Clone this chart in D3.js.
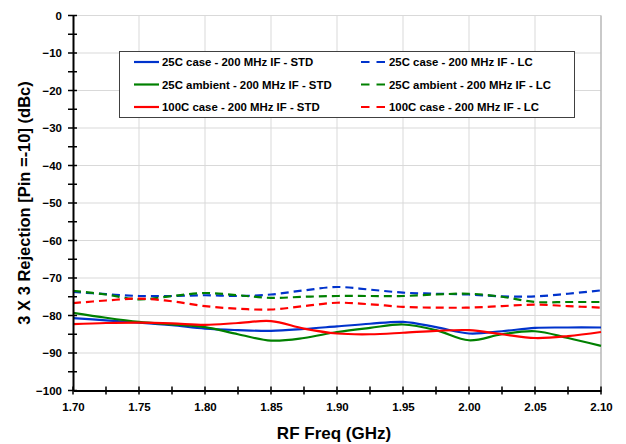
<!DOCTYPE html>
<html><head><meta charset="utf-8">
<script src="https://cdn.jsdelivr.net/npm/d3@7"></script>
<style>body{margin:0;background:#fff}svg{display:block;font-family:Arial,"Liberation Sans",sans-serif}</style>
</head><body><svg id="c" width="626" height="444"></svg>
<script>
const freqs = [1.700,1.725,1.750,1.775,1.800,1.825,1.850,1.875,1.900,1.925,1.950,1.975,2.000,2.025,2.050,2.075,2.100];
const case25Std  = [-80.7,-81.3,-81.9,-82.6,-83.5,-83.9,-84.1,-83.6,-82.9,-82.2,-81.7,-83.1,-84.8,-84.2,-83.3,-83.2,-83.2];
const amb25Std   = [-79.3,-80.6,-81.7,-82.4,-83.1,-85.0,-86.7,-86.0,-84.4,-83.3,-82.4,-83.9,-86.6,-85.0,-84.2,-86.0,-88.1];
const case100Std = [-82.3,-82.0,-81.9,-82.1,-82.5,-82.0,-81.5,-83.5,-84.8,-85.0,-84.6,-84.1,-83.9,-85.0,-86.0,-85.5,-84.4];
const case25Lc   = [-73.7,-74.3,-74.8,-74.8,-74.6,-74.8,-74.4,-73.3,-72.4,-73.1,-73.9,-74.2,-74.4,-74.9,-74.9,-74.2,-73.3];
const amb25Lc    = [-73.4,-74.4,-75.7,-74.8,-74.0,-74.6,-75.3,-75.0,-74.8,-74.8,-74.8,-74.4,-74.2,-75.0,-76.4,-76.4,-76.4];
const case100Lc  = [-76.7,-76.0,-75.5,-76.2,-77.5,-78.2,-78.4,-77.5,-76.6,-77.0,-77.7,-77.9,-77.9,-77.5,-77.1,-77.5,-77.9];
const seriesNames = ["25C case - 200 MHz IF - STD","25C ambient - 200 MHz IF - STD","100C case - 200 MHz IF - STD",
  "25C case - 200 MHz IF - LC","25C ambient - 200 MHz IF - LC","100C case - 200 MHz IF - LC"];
const xTicks = [1.70,1.75,1.80,1.85,1.90,1.95,2.00,2.05,2.10];
const yTicks = [0,-10,-20,-30,-40,-50,-60,-70,-80,-90,-100];
const xTitle = "RF Freq (GHz)";
const yTitle = "3 X 3 Rejection [Pin =-10] (dBc)";

const series = [
  {name:seriesNames[0], values:case25Std, color:"#0033cc", dash:null},
  {name:seriesNames[1], values:amb25Std, color:"#008000", dash:null},
  {name:seriesNames[2], values:case100Std, color:"#ff0000", dash:null},
  {name:seriesNames[3], values:case25Lc, color:"#0033cc", dash:"8,5"},
  {name:seriesNames[4], values:amb25Lc, color:"#008000", dash:"8,5"},
  {name:seriesNames[5], values:case100Lc, color:"#ff0000", dash:"8,5"}
];

const svg = d3.select("#c");
const L=73, R=601, T=15.5, B=390.5;
const x = d3.scaleLinear().domain([1.70,2.10]).range([L,R]);
const y = d3.scaleLinear().domain([-100,0]).range([B,T]);

// grid
const g = svg.append("g");
g.selectAll(".vg").data(xTicks.slice(1)).join("line")
  .attr("x1",d=>x(d)).attr("x2",d=>x(d)).attr("y1",T).attr("y2",B)
  .attr("stroke","#d9d9d9").attr("stroke-width",1);
g.selectAll(".hg").data(yTicks.slice(0,-1)).join("line")
  .attr("x1",L).attr("x2",R).attr("y1",d=>y(d)).attr("y2",d=>y(d))
  .attr("stroke","#d9d9d9").attr("stroke-width",1);
svg.append("line").attr("x1",R).attr("x2",R).attr("y1",T).attr("y2",B).attr("stroke","#a6a6a6").attr("stroke-width",1);

// series
const line = d3.line().x((d,i)=>x(freqs[i])).y(d=>y(d)).curve(d3.curveCatmullRom.alpha(0.5));
svg.selectAll(".s").data(series).join("path")
  .attr("d",d=>line(d.values)).attr("fill","none")
  .attr("stroke",d=>d.color).attr("stroke-width",2.2)
  .attr("stroke-dasharray",d=>d.dash);

// axes
const xAxis = d3.axisBottom(x).tickValues(xTicks).tickFormat(d3.format(".2f")).tickSize(0).tickPadding(12);
const gx = svg.append("g").attr("transform",`translate(0,${B})`).call(xAxis);
gx.select(".domain").attr("stroke","#000").attr("stroke-width",2);
gx.selectAll("text").attr("font-size",11.5).attr("font-weight","bold").attr("fill","#000").attr("font-family","Arial, Liberation Sans, sans-serif");
const xMinor = d3.range(0,17).map(i=>1.70+i*0.025);
svg.selectAll(".xt").data(xMinor).join("line")
  .attr("x1",d=>x(d)).attr("x2",d=>x(d)).attr("y1",B-4).attr("y2",B+4).attr("stroke","#000").attr("stroke-width",1.5);

const yAxis = d3.axisLeft(y).tickValues(yTicks).tickSize(0).tickPadding(11);
const gy = svg.append("g").attr("transform",`translate(${L},0)`).call(yAxis);
gy.select(".domain").attr("stroke","#000").attr("stroke-width",2);
gy.selectAll("text").attr("font-size",11.5).attr("font-weight","bold").attr("fill","#000").attr("font-family","Arial, Liberation Sans, sans-serif");
const yMinor = d3.range(0,21).map(i=>-i*5);
svg.selectAll(".yt").data(yMinor).join("line")
  .attr("x1",L-5).attr("x2",L+4).attr("y1",d=>y(d)).attr("y2",d=>y(d)).attr("stroke","#000").attr("stroke-width",1.5);

// titles
svg.append("text").attr("x",334).attr("y",439).attr("text-anchor","middle")
  .attr("font-size",17).attr("font-weight","bold").text(xTitle);
svg.append("text").attr("transform",`translate(30,${(T+B)/2}) rotate(-90)`).attr("text-anchor","middle")
  .attr("font-size",16.5).attr("font-weight","bold").text(yTitle);

// legend
const lg = svg.append("g");
lg.append("rect").attr("x",119.5).attr("y",51.5).attr("width",455).attr("height",66)
  .attr("fill","#fff").attr("stroke","#404040").attr("stroke-width",1);
series.forEach((s,i)=>{
  const col = i<3?0:1, row=i%3;
  const lx = col===0?134:361, ly = 62+row*22.5;
  lg.append("line").attr("x1",lx).attr("x2",lx+25).attr("y1",ly).attr("y2",ly)
    .attr("stroke",s.color).attr("stroke-width",2.2).attr("stroke-dasharray",s.dash?"8.5,7":null);
  lg.append("text").attr("x",lx+28).attr("y",ly+4).attr("font-size",11.4).attr("font-weight","bold").text(s.name);
});
</script></body></html>
